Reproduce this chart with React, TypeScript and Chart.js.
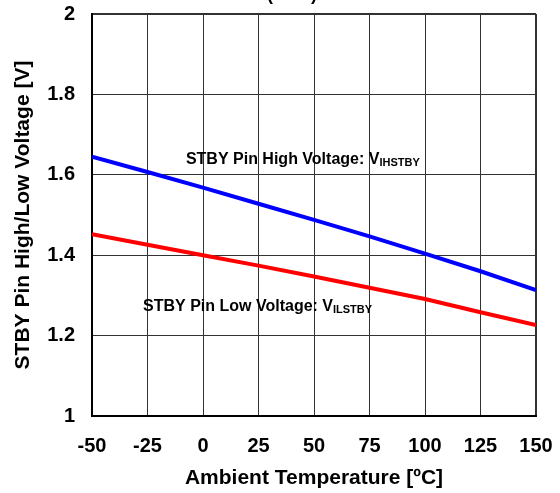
import React, { useEffect, useRef } from "react";
import { Chart, registerables } from "chart.js";

Chart.register(...registerables);

const temperatures = [-50, -25, 0, 25, 50, 75, 100, 125, 150];
const highVoltage = [1.645, 1.607, 1.568, 1.528, 1.488, 1.447, 1.404, 1.36, 1.313];
const lowVoltage = [1.452, 1.426, 1.4, 1.374, 1.347, 1.319, 1.291, 1.258, 1.226];
const xTickValues = [-50, -25, 0, 25, 50, 75, 100, 125, 150];
const yTickValues = [1, 1.2, 1.4, 1.6, 1.8, 2];
const highLabel = { main: "STBY Pin High Voltage: V", sub: "IHSTBY", x: -7.7, y: 1.627 };
const lowLabel = { main: "STBY Pin Low Voltage: V", sub: "ILSTBY", x: -27, y: 1.26 };
const titleText = "(VCC)";

const FONT = "'Liberation Sans', Arial, Helvetica, sans-serif";

const annotationPlugin = {
  id: "annotations",
  afterDatasetsDraw(chart: any) {
    const ctx = chart.ctx;
    const xs = chart.scales.x;
    const ys = chart.scales.y;
    ctx.save();
    ctx.fillStyle = "#000";
    ctx.textBaseline = "alphabetic";
    ctx.textAlign = "left";
    for (const l of [highLabel, lowLabel]) {
      const px = xs.getPixelForValue(l.x);
      const py = ys.getPixelForValue(l.y);
      ctx.font = `bold 16px ${FONT}`;
      ctx.fillText(l.main, px, py);
      const w = ctx.measureText(l.main).width;
      ctx.font = `bold 11px ${FONT}`;
      ctx.fillText(l.sub, px + w, py + 2);
    }
    // partially visible title above the chart
    ctx.font = `bold 18px ${FONT}`;
    ctx.textAlign = "center";
    ctx.fillText(titleText, 292, 0);
    ctx.restore();
  },
};

export default function App() {
  const ref = useRef<HTMLCanvasElement | null>(null);
  useEffect(() => {
    document.body.style.margin = "0";
    const canvas = ref.current!;
    const edgeWidth = (ctx: any) => {
      const n = ctx.scale.ticks.length;
      return ctx.index === 0 || ctx.index === n - 1 ? 2 : 1;
    };
    const zeroPad = (s: any) => {
      s.paddingTop = 0;
      s.paddingBottom = 0;
      s.paddingLeft = 0;
      s.paddingRight = 0;
    };
    const chart = new Chart(canvas, {
      type: "line",
      data: {
        datasets: [
          {
            label: "High",
            data: temperatures.map((t, i) => ({ x: t, y: highVoltage[i] })),
            borderColor: "#0000ff",
            borderWidth: 4,
            pointRadius: 0,
            tension: 0,
          },
          {
            label: "Low",
            data: temperatures.map((t, i) => ({ x: t, y: lowVoltage[i] })),
            borderColor: "#ff0000",
            borderWidth: 4,
            pointRadius: 0,
            tension: 0,
          },
        ],
      },
      options: {
        animation: false,
        responsive: false,
        maintainAspectRatio: false,
        layout: { padding: { left: 0, right: 24, top: 14, bottom: 0 } },
        plugins: { legend: { display: false }, tooltip: { enabled: false } },
        scales: {
          x: {
            type: "linear",
            min: -50,
            max: 150,
            afterBuildTicks: (s: any) => {
              s.ticks = xTickValues.map((v) => ({ value: v }));
            },
            afterFit: (s: any) => {
              s.height = 77;
              zeroPad(s);
            },
            grid: { color: "#333", lineWidth: edgeWidth, drawTicks: false },
            border: { display: true, color: "#000", width: 2 },
            ticks: {
              padding: 18,
              color: "#000",
              font: { family: FONT, size: 20, weight: "bold" },
              callback: (v: any) => String(v),
              maxRotation: 0,
              autoSkip: false,
            },
            title: {
              display: true,
              text: "Ambient Temperature [ºC]",
              color: "#000",
              font: { family: FONT, size: 21, weight: "bold" },
              padding: { top: 0, bottom: 2 },
            },
          },
          y: {
            type: "linear",
            min: 1,
            max: 2,
            afterBuildTicks: (s: any) => {
              s.ticks = yTickValues.map((v) => ({ value: v }));
            },
            afterFit: (s: any) => {
              s.width = 92;
              zeroPad(s);
            },
            grid: { color: "#333", lineWidth: edgeWidth, drawTicks: false },
            border: { display: true, color: "#000", width: 2 },
            ticks: {
              padding: 17,
              color: "#000",
              font: { family: FONT, size: 20, weight: "bold" },
              callback: (v: any) => String(Number(Number(v).toFixed(1))),
              autoSkip: false,
            },
            title: {
              display: true,
              text: "STBY Pin High/Low Voltage [V]",
              color: "#000",
              font: { family: FONT, size: 21, weight: "bold" },
              padding: { top: 11, bottom: 0 },
            },
          },
        },
      },
      plugins: [annotationPlugin],
    });
    return () => chart.destroy();
  }, []);
  return <canvas ref={ref} width={560} height={493} style={{ display: "block" }} />;
}
